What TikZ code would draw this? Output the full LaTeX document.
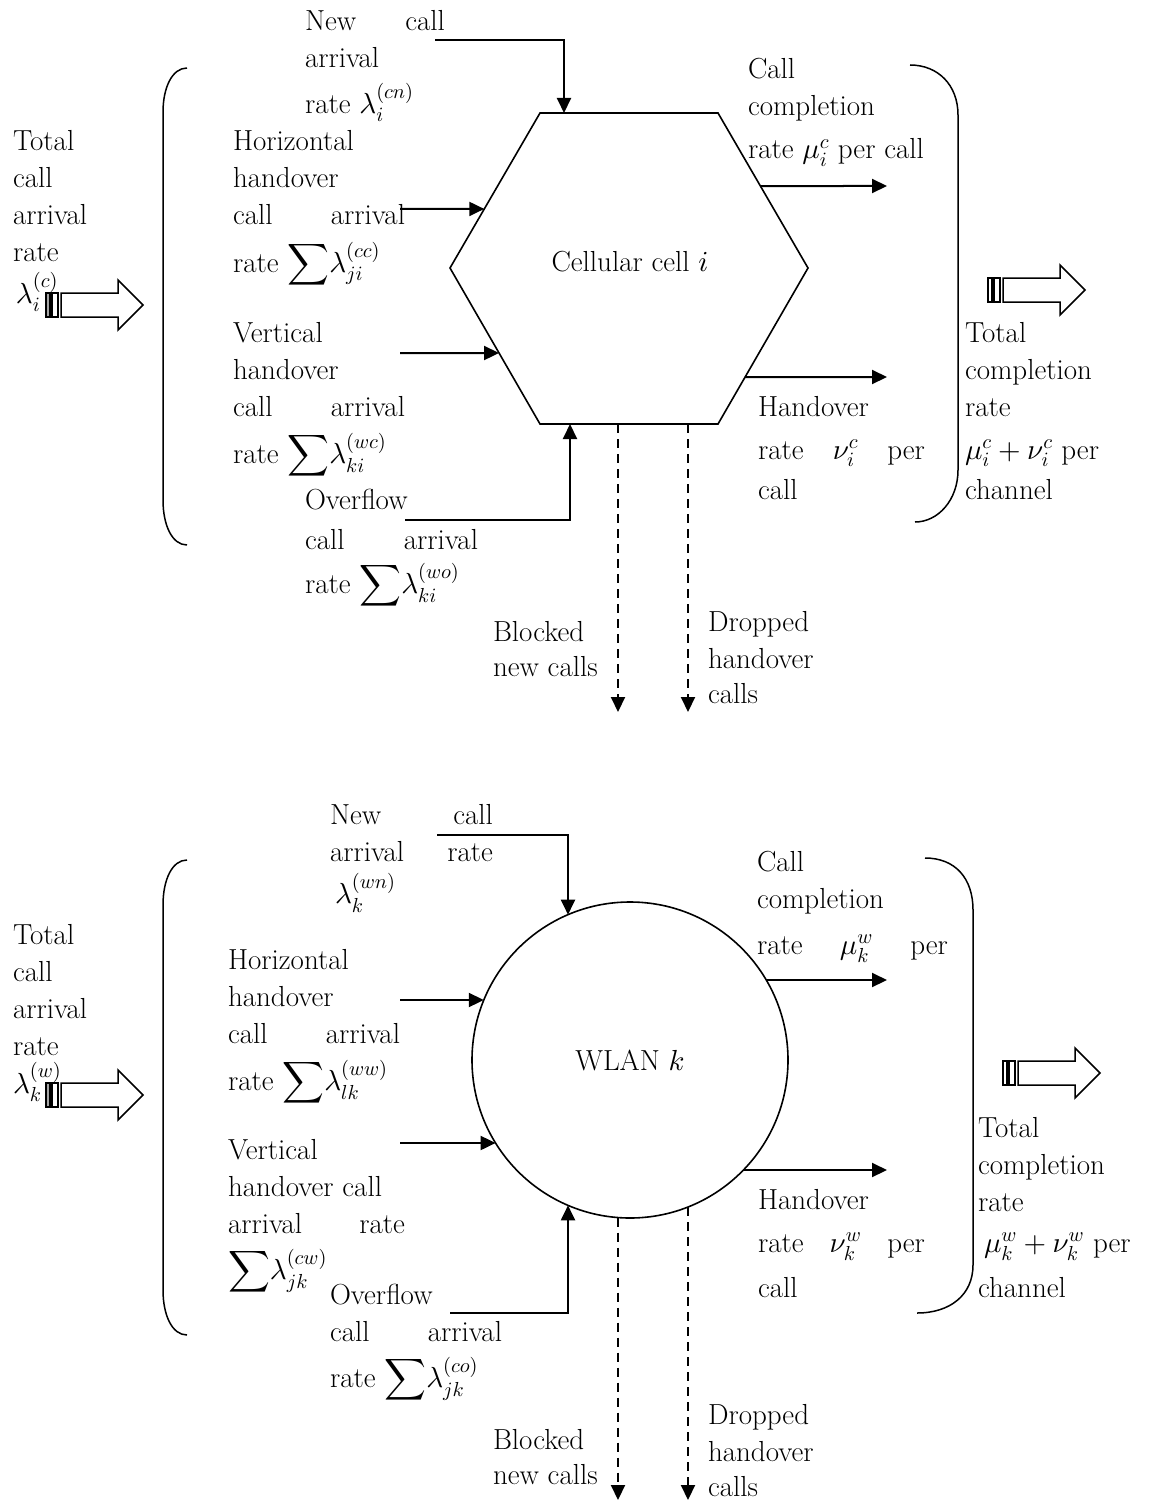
\documentclass[tikz,border=0pt]{standalone}
\DeclareFontShape{OML}{cmm}{m}{it}{<->cmmi10}{}
\DeclareFontShape{OMS}{cmsy}{m}{n}{<->cmsy10}{}
\DeclareFontShape{OMX}{cmex}{m}{n}{<->cmex10}{}
\DeclareFontShape{OT1}{cmr}{m}{n}{<->cmr10}{}
\usetikzlibrary{arrows.meta,calc}
\newcommand\lines[1]{\begin{tabular}[t]{@{}l@{}}#1\end{tabular}}
\newcommand\js[2]{\makebox[#1][s]{#2}}
\newcommand\bigsum{\smash{$\displaystyle\sum$}}
\newcommand\fatarrow[3]{%
  \draw[line width=1.2pt, fill=#3] (#1,#2-12) rectangle ++(4,24);
  \draw[line width=1.2pt] (#1+6,#2-12) rectangle ++(6,24);
  \draw[line width=1.5pt, fill=white] (#1+15,#2-12) -- ++(57,0) -- ++(0,-13) -- ++(25,25) -- ++(-25,25) -- ++(0,-13) -- ++(-57,0) -- cycle;}
\tikzset{
  every node/.style={font=\fontsize{29}{37}\selectfont},
  lbl/.style={anchor=base west, inner sep=0pt, outer sep=0pt},
  arr/.style={line width=2pt, -{Triangle[length=15pt,width=14pt]}},
  dsh/.style={arr, dash pattern=on 9pt off 6pt},
  shp/.style={line width=1.6pt},
  brk/.style={line width=1.5pt},
}
\begin{document}
\begin{tikzpicture}[x=1pt,y=-1pt]
\useasboundingbox (0,0) rectangle (1152,1506);

% ================= TOP: cellular cell =================
\coordinate (h1) at (540,113);
\coordinate (h2) at (718,113);
\coordinate (h3) at (808,268);
\coordinate (h4) at (718,424);
\coordinate (h5) at (540,424);
\coordinate (h6) at (450,268);
\draw[shp] (h1)--(h2)--(h3)--(h4)--(h5)--(h6)--cycle;
\node (cell) at (630,262) {Cellular cell $i$};

% connectors
\coordinate (nc-s) at (435,40);
\coordinate (nc-e) at (564,113);
\draw[arr] (nc-s) -| (nc-e);
\coordinate (hh-s) at (400,209);
\coordinate (hh-e) at ($(h6)!0.381!(h1)$);
\draw[arr] (hh-s) -- (hh-e);
\coordinate (vh-s) at (400,353);
\coordinate (vh-e) at ($(h6)!0.545!(h5)$);
\draw[arr] (vh-s) -- (vh-e);
\coordinate (of-s) at (405,520);
\coordinate (of-e) at (570,424);
\draw[arr] (of-s) -| (of-e);
\coordinate (cc-s) at ($(h2)!0.471!(h3)$);
\coordinate (cc-e) at (887,186);
\draw[arr] (cc-s) -- (cc-e);
\coordinate (ho-s) at ($(h3)!0.699!(h4)$);
\coordinate (ho-e) at (887,377);
\draw[arr] (ho-s) -- (ho-e);
\coordinate (bl-s) at (618,424);
\coordinate (bl-e) at (618,712);
\draw[dsh] (bl-s) -- (bl-e);
\coordinate (dr-s) at (688,424);
\coordinate (dr-e) at (688,712);
\draw[dsh] (dr-s) -- (dr-e);

% brackets
\draw[brk] (187,68) .. controls (172,68) and (163,88) .. (163,112) -- (163,500) .. controls (163,525) and (172,545) .. (187,545);
\draw[brk] (910,65) .. controls (938,65) and (958,85) .. (958,115) -- (958,470) .. controls (958,500) and (938,522) .. (915,522);

% fat arrows
\fatarrow{46}{305}{gray!70}
\fatarrow{988}{290}{white}

% labels
\node[lbl] (tcar) at (13,151) {\lines{Total\\call\\arrival\\rate}};
\node[lbl] (lamc) at (16,303) {$\lambda_i^{(c)}$};
\node[lbl] (ncl) at (305,31) {\lines{\js{140pt}{New call}\\arrival\\[4pt]rate $\lambda_i^{(cn)}$}};
\node[lbl] (hhl) at (233,151) {\lines{Horizontal\\handover\\\js{172pt}{call arrival}\\[6pt]rate \bigsum$\lambda_{ji}^{(cc)}$}};
\node[lbl] (vhl) at (233,342) {\lines{Vertical\\handover\\\js{172pt}{call arrival}\\[6pt]rate \bigsum$\lambda_{ki}^{(wc)}$}};
\node[lbl] (ofl) at (305,509) {\lines{Overflow\\[3pt]\js{173pt}{call arrival}\\[3pt]rate \bigsum$\lambda_{ki}^{(wo)}$}};
\node[lbl] (ccl) at (748,79) {\lines{Call\\completion\\[6pt]rate $\mu_i^c$ per call}};
\node[lbl] (hol) at (758,416) {\lines{Handover\\[6pt]\js{167pt}{rate $\nu_i^c$ per}\\[3pt]call}};
\node[lbl] (tcl) at (965,342) {\lines{Total\\completion\\rate\\[6pt] $\mu_i^c+\nu_i^c$ per\\[3pt]channel}};
\node[lbl] (bnc) at (493,641) {\lines{Blocked\\[-2pt]new calls}};
\node[lbl] (dhc) at (708,631) {\lines{Dropped\\handover\\[-2pt]calls}};

% ================= BOTTOM: WLAN =================
\node[draw, shp, circle, minimum size=316pt, inner sep=0pt] (wlan) at (630,1060) {WLAN $k$};

\coordinate (nc2-s) at (437,835);
\coordinate (nc2-e) at (568,914.7);
\draw[arr] (nc2-s) -| (nc2-e);
\coordinate (hh2-s) at (400,1000);
\coordinate (hh2-e) at (483.8,1000);
\draw[arr] (hh2-s) -- (hh2-e);
\coordinate (vh2-s) at (400,1143);
\coordinate (vh2-e) at (495.6,1143);
\draw[arr] (vh2-s) -- (vh2-e);
\coordinate (of2-s) at (450,1313);
\coordinate (of2-e) at (568,1205.3);
\draw[arr] (of2-s) -| (of2-e);
\coordinate (cc2-s) at (766.2,980);
\coordinate (cc2-e) at (887,980);
\draw[arr] (cc2-s) -- (cc2-e);
\coordinate (ho2-s) at (743.4,1170);
\coordinate (ho2-e) at (887,1170);
\draw[arr] (ho2-s) -- (ho2-e);
\coordinate (bl2-s) at (618,1217.5);
\coordinate (bl2-e) at (618,1500);
\draw[dsh] (bl2-s) -- (bl2-e);
\coordinate (dr2-s) at (688,1207);
\coordinate (dr2-e) at (688,1500);
\draw[dsh] (dr2-s) -- (dr2-e);

\draw[brk] (187,860) .. controls (172,860) and (163,880) .. (163,905) -- (163,1290) .. controls (163,1315) and (172,1335) .. (187,1335);
\draw[brk] (925,858) .. controls (955,858) and (973,878) .. (973,910) -- (973,1265) .. controls (973,1295) and (950,1313) .. (917,1313);

\fatarrow{46}{1095}{gray!70}
\fatarrow{1003}{1073}{white}

\node[lbl] (tcar2) at (13,944) {\lines{Total\\call\\arrival\\rate}};
\node[lbl] (lamw) at (13,1093) {$\lambda_k^{(w)}$};
\node[lbl] (ncl2) at (330,824) {\lines{\js{163pt}{New call}\\\js{163pt}{arrival rate}\\[1pt]\hspace*{5pt}$\lambda_k^{(wn)}$}};
\node[lbl] (hhl2) at (228,969) {\lines{Horizontal\\handover\\\js{172pt}{call arrival}\\[6pt]rate \bigsum$\lambda_{lk}^{(ww)}$}};
\node[lbl] (vhl2) at (228,1159) {\lines{Vertical\\handover call\\\js{177pt}{arrival rate}\\[5pt]\bigsum$\lambda_{jk}^{(cw)}$}};
\node[lbl] (ofl2) at (330,1304) {\lines{Overflow\\\js{172pt}{call arrival}\\[5pt]rate \bigsum$\lambda_{jk}^{(co)}$}};
\node[lbl] (ccl2) at (757,871) {\lines{Call\\completion\\[9pt]\js{191pt}{rate $\mu_k^w$ per}}};
\node[lbl] (hol2) at (758,1209) {\lines{Handover\\[6pt]\js{167pt}{rate $\nu_k^w$ per}\\[8pt]call}};
\node[lbl] (tcl2) at (978,1137) {\lines{Total\\completion\\rate\\[4pt]\hspace*{6pt}$\mu_k^w+\nu_k^w$ per\\[8pt]channel}};
\node[lbl] (bnc2) at (493,1449) {\lines{Blocked\\[-2pt]new calls}};
\node[lbl] (dhc2) at (708,1424) {\lines{Dropped\\handover\\[-2pt]calls}};
\end{tikzpicture}
\end{document}
